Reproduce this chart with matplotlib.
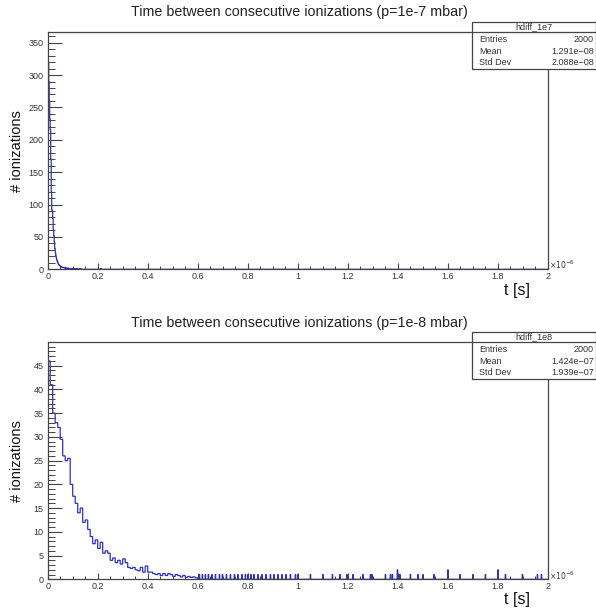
import numpy as np
import matplotlib
matplotlib.use("Agg")
import matplotlib.pyplot as plt
from matplotlib.patches import Rectangle
from matplotlib.lines import Line2D

plt.rcParams['font.family'] = ['Liberation Sans', 'DejaVu Sans']

# --- datos (eje x en unidades de 1e-6 s) ---

# p = 1e-7 mbar: bins finos de 0.002 desde 0
bin_w_1e7 = 0.002
counts_1e7 = [348, 320, 290, 260, 232, 215, 170, 120, 92, 90,
              78, 61, 52, 42, 32, 26, 21, 17, 14, 12,
              10, 8, 7, 6, 5, 5, 4, 4, 3, 3,
              3, 3, 2, 2, 3, 2, 2, 1, 2, 1,
              1, 2, 1, 1, 1, 0, 1, 0, 1, 1,
              0, 1, 0, 0, 1, 0, 1, 0, 0, 1,
              0, 0, 0, 1, 0, 1, 0, 0, 0, 0]
spikes_1e7 = [0.212]

# p = 1e-8 mbar: bins de 0.01 hasta 0.6, luego eventos sueltos
head_w_1e8 = 0.01
head_1e8 = [46, 41, 35, 33, 32, 29.5, 26, 25, 25.5, 20,
            17.5, 16, 14, 15, 12, 12.5, 10.5, 9, 7.5, 8.3,
            6.5, 7.8, 5.5, 6, 5.5, 4, 4.5, 3.5, 4, 3.2,
            4.3, 3.5, 2.5, 2.3, 2.5, 2, 1.8, 2.5, 1.5, 2.8,
            1.5, 1.5, 1.2, 1, 1.2, 0.8, 1.2, 0.8, 1.2, 1,
            0.6, 1, 0.8, 0.5, 0.8, 0.4, 0.6, 0.4, 0.5, 0.3]
spikes_1e8 = [0.606, 0.618, 0.630, 0.642, 0.656, 0.670, 0.686, 0.700, 0.716, 0.730,
              0.746, 0.760, 0.776, 0.790, 0.800, 0.812, 0.826, 0.840, 0.856, 0.872,
              0.890, 0.904, 0.920, 0.936, 0.952, 0.970, 0.990, 1.000,
              1.050, 1.100, 1.140, 1.170, 1.196, 1.220, 1.260, 1.290, 1.296, 1.350,
              1.370, 1.380, 1.400, 1.400, 1.410, 1.450, 1.480, 1.500, 1.545, 1.600,
              1.600, 1.650, 1.700, 1.750, 1.800, 1.800, 1.830, 1.900, 1.960, 1.976]

titles = ["Time between consecutive ionizations (p=1e-7 mbar)",
          "Time between consecutive ionizations (p=1e-8 mbar)"]
names = ["hdiff_1e7", "hdiff_1e8"]
entries = ["2000", "2000"]
means = ["1.291e\u221208", "1.424e\u221207"]
stds = ["2.088e\u221208", "1.939e\u221207"]
ymax = [366, 50]
ymajor = [50, 5]
xticks = [0, 0.2, 0.4, 0.6, 0.8, 1.0, 1.2, 1.4, 1.6, 1.8, 2.0]
xticklabels = ["0", "0.2", "0.4", "0.6", "0.8", "1", "1.2", "1.4", "1.6", "1.8", "2"]

FINE = 0.002
X_MAX = 2.0


def build_hist_1e7():
    n = int(round(X_MAX / bin_w_1e7))
    vals = np.zeros(n)
    vals[:len(counts_1e7)] = counts_1e7
    for s in spikes_1e7:
        vals[int(s / bin_w_1e7)] += 1
    edges = np.linspace(0, X_MAX, n + 1)
    return vals, edges


def build_hist_1e8():
    head = np.array(head_1e8, dtype=float)
    head_edges = np.arange(len(head) + 1) * head_w_1e8
    start = head_edges[-1]
    n_tail = int(round((X_MAX - start) / FINE))
    tail = np.zeros(n_tail)
    for s in spikes_1e8:
        idx = min(int((s - start) / FINE), n_tail - 1)
        tail[idx] += 1
    tail_edges = start + np.arange(1, n_tail + 1) * FINE
    return np.concatenate([head, tail]), np.concatenate([head_edges, tail_edges])


W, H = 596, 614
fig = plt.figure(figsize=(W / 100, H / 100), dpi=100)
fig.patch.set_facecolor('white')

pads = [dict(top=32.3, bottom=269.3, title_y=12, box_top=22, xlab_y=298),
        dict(top=342.0, bottom=579.3, title_y=323, box_top=332, xlab_y=607)]
left_px, right_px = 47.7, 547.7
hists = [build_hist_1e7(), build_hist_1e8()]
frame_col = '#454545'
txt_col = '#333333'


def fx(px):
    return px / W


def fy(py):
    return 1 - py / H


for i, p in enumerate(pads):
    ax = fig.add_axes([fx(left_px), fy(p['bottom']),
                       (right_px - left_px) / W, (p['bottom'] - p['top']) / H])
    vals, edges = hists[i]
    ax.stairs(vals, edges, color='#3030c0', lw=0.9, baseline=0)
    ax.set_xlim(0, X_MAX)
    ax.set_ylim(0, ymax[i])
    for sp in ax.spines.values():
        sp.set_color(frame_col)
        sp.set_linewidth(0.9)
    ax.set_xticks(xticks)
    ax.set_xticklabels(xticklabels)
    ax.set_xticks(np.arange(0, X_MAX + 0.001, 0.05), minor=True)
    ax.set_yticks(np.arange(0, ymax[i], ymajor[i]))
    ax.set_yticks(np.arange(0, ymax[i], ymajor[i] / 5), minor=True)
    ax.tick_params(axis='x', which='major', direction='in', length=4.5, width=0.8,
                   color=frame_col, labelsize=6.5, labelcolor=txt_col, pad=2)
    ax.tick_params(axis='x', which='minor', direction='in', length=2.2, width=0.7,
                   color=frame_col)
    ax.tick_params(axis='y', which='major', direction='in', length=10, width=0.8,
                   color=frame_col, labelsize=6.5, labelcolor=txt_col, pad=3)
    ax.tick_params(axis='y', which='minor', direction='in', length=5, width=0.7,
                   color=frame_col)
    ax.set_ylabel("# ionizations", fontsize=10.5, color='#111111')
    ax.yaxis.set_label_coords(-(left_px - 24) / (right_px - left_px), 0.5)

    # titulo y etiquetas
    fig.text(fx(299), fy(p['title_y']), titles[i], ha='center', va='center',
             fontsize=10.3, color='#222222')
    fig.text(fx(517), fy(p['xlab_y']), "t [s]", ha='center', va='bottom',
             fontsize=11.5, color='#111111')
    fig.text(fx(549), fy(p['bottom'] - 4), r"$\times10^{-6}$", ha='left', va='center',
             fontsize=5.5, color=txt_col)

    # caja de estadisticas
    bt = p['box_top']
    bx0, bx1, bh = 472, 595.5, 47
    fig.patches.append(Rectangle((fx(bx0), fy(bt + bh)), (bx1 - bx0) / W, bh / H,
                                 transform=fig.transFigure, facecolor='white',
                                 edgecolor=frame_col, lw=0.9, zorder=5))
    fig.lines.append(Line2D([fx(bx0), fx(bx1)], [fy(bt + 10.3), fy(bt + 10.3)],
                            transform=fig.transFigure, color=frame_col, lw=0.9, zorder=6))
    fig.text(fx((bx0 + bx1) / 2), fy(bt + 5), names[i], ha='center', va='center',
             fontsize=6.5, color=txt_col, zorder=7)
    rows = [("Entries", entries[i]), ("Mean", means[i]), ("Std Dev", stds[i])]
    for j, (lab, val) in enumerate(rows):
        yy = fy(bt + 17.5 + j * 11.5)
        fig.text(fx(479), yy, lab, ha='left', va='center', fontsize=6.5,
                 color=txt_col, zorder=7)
        fig.text(fx(594), yy, val, ha='right', va='center', fontsize=6.5,
                 color=txt_col, zorder=7)

fig.savefig("out.png", dpi=100)
